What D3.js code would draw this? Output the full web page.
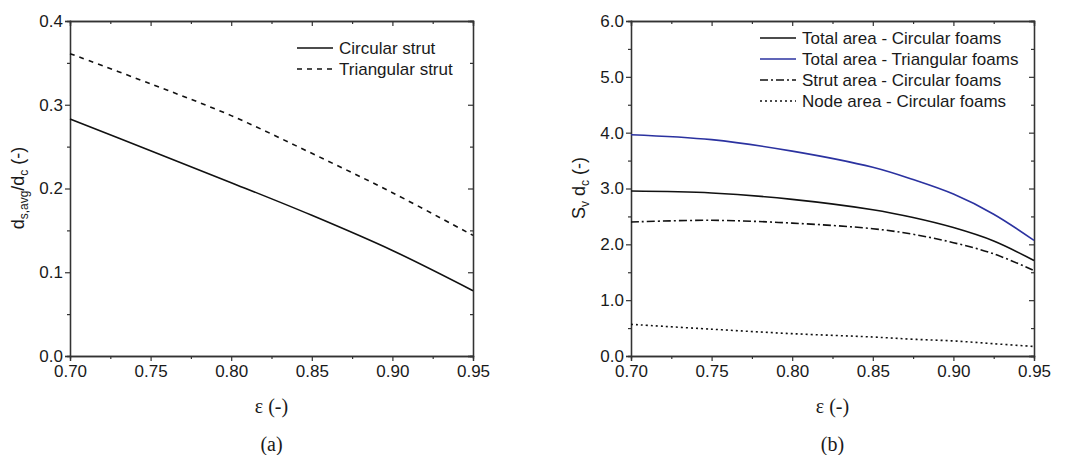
<!DOCTYPE html>
<html>
<head>
<meta charset="utf-8">
<title>Strut diameter and specific surface</title>
<script src="https://d3js.org/d3.v7.min.js"></script>
<style>
  body { margin: 0; background: #fff; }
  text { font-family: "Liberation Sans", Arial, sans-serif; fill: #1a1a1a; }
  .serif { font-family: "Liberation Serif", "Times New Roman", serif; }
</style>
</head>
<body>
<script>
// panel (a)
var epsA = [0.70, 0.75, 0.80, 0.85, 0.90, 0.95];
var circularStrut = [0.283, 0.245, 0.207, 0.168, 0.126, 0.078];
var triangularStrut = [0.361, 0.325, 0.287, 0.242, 0.195, 0.144];

// panel (b)
var epsB = [0.70, 0.75, 0.80, 0.85, 0.875, 0.90, 0.925, 0.95];
var totalCircular = [2.955, 2.92, 2.806, 2.62, 2.48, 2.30, 2.06, 1.71];
var totalTriangular = [3.964, 3.875, 3.67, 3.38, 3.16, 2.90, 2.54, 2.07];
var strutCircular = [2.40, 2.43, 2.38, 2.28, 2.18, 2.03, 1.83, 1.53];
var nodeCircular = [0.567, 0.48, 0.40, 0.34, 0.30, 0.27, 0.22, 0.17];

var xTicks = [0.70, 0.75, 0.80, 0.85, 0.90, 0.95];
var yTicksA = [0.0, 0.1, 0.2, 0.3, 0.4];
var yTicksB = [0.0, 1.0, 2.0, 3.0, 4.0, 5.0, 6.0];

var svg = d3.select("body")
    .append("svg")
    .attr("width", 1067)
    .attr("height", 455);

function drawPanel(opt) {
    var x = d3.scaleLinear().domain([0.70, 0.95]).range([opt.left, opt.right]);
    var y = d3.scaleLinear().domain(opt.yDomain).range([356, 21]);
    var g = svg.append("g");

    var xMinor = d3.range(0.725, 0.95, 0.05);
    var yMinor = d3.range(opt.yDomain[0] + opt.yMinorStep, opt.yDomain[1], opt.yMinorStep * 2);

    // bottom axis
    g.append("g")
        .attr("transform", "translate(0,356)")
        .call(d3.axisBottom(x).tickValues(xTicks).tickFormat(d3.format(".2f")).tickSizeOuter(0).tickSize(5).tickPadding(4))
        .call(function(a) { a.selectAll("text").style("font-size", "17px").style("fill", "#1a1a1a"); });
    g.append("g")
        .attr("transform", "translate(0,356)")
        .call(d3.axisBottom(x).tickValues(xMinor).tickFormat("").tickSizeOuter(0).tickSize(3));

    // top axis (ticks inward)
    g.append("g")
        .attr("transform", "translate(0,21)")
        .call(d3.axisBottom(x).tickValues(xTicks).tickFormat("").tickSizeOuter(0).tickSize(5));
    g.append("g")
        .attr("transform", "translate(0,21)")
        .call(d3.axisBottom(x).tickValues(xMinor).tickFormat("").tickSizeOuter(0).tickSize(3));

    // left axis
    g.append("g")
        .attr("transform", "translate(" + opt.left + ",0)")
        .call(d3.axisLeft(y).tickValues(opt.yTicks).tickFormat(d3.format(".1f")).tickSizeOuter(0).tickSize(5).tickPadding(2))
        .call(function(a) { a.selectAll("text").style("font-size", "17px").style("fill", "#1a1a1a"); });
    g.append("g")
        .attr("transform", "translate(" + opt.left + ",0)")
        .call(d3.axisLeft(y).tickValues(yMinor).tickFormat("").tickSizeOuter(0).tickSize(3));

    // right axis (ticks inward)
    g.append("g")
        .attr("transform", "translate(" + opt.right + ",0)")
        .call(d3.axisLeft(y).tickValues(opt.yTicks).tickFormat("").tickSizeOuter(0).tickSize(5));
    g.append("g")
        .attr("transform", "translate(" + opt.right + ",0)")
        .call(d3.axisLeft(y).tickValues(yMinor).tickFormat("").tickSizeOuter(0).tickSize(3));

    g.selectAll(".domain").attr("stroke", "#333").attr("stroke-width", 1.3);
    g.selectAll(".tick line").attr("stroke", "#333").attr("stroke-width", 1.2);

    var line = d3.line()
        .x(function(d) { return x(d[0]); })
        .y(function(d) { return y(d[1]); })
        .curve(d3.curveCatmullRom.alpha(0.5));

    opt.series.forEach(function(s, i) {
        var pts = opt.eps.map(function(e, j) { return [e, s.values[j]]; });
        g.append("path")
            .attr("d", line(pts))
            .attr("fill", "none")
            .attr("stroke", s.color)
            .attr("stroke-width", 1.6)
            .attr("stroke-dasharray", s.dash);

        var ly = opt.legendY + i * 21;
        g.append("line")
            .attr("x1", opt.legendX).attr("x2", opt.legendX + 36)
            .attr("y1", ly).attr("y2", ly)
            .attr("stroke", s.color)
            .attr("stroke-width", 1.6)
            .attr("stroke-dasharray", s.dash);
        g.append("text")
            .attr("x", opt.legendX + 42)
            .attr("y", ly + 6)
            .style("font-size", "17px")
            .text(s.name);
    });

    var mid = (opt.left + opt.right) / 2;
    g.append("text")
        .attr("class", "serif")
        .attr("x", mid).attr("y", 413)
        .attr("text-anchor", "middle")
        .style("font-size", "20px")
        .text("\u03b5 (-)");
    g.append("text")
        .attr("class", "serif")
        .attr("x", mid).attr("y", 451)
        .attr("text-anchor", "middle")
        .style("font-size", "20px")
        .text(opt.tag);

    var yl = g.append("text")
        .attr("transform", "translate(" + opt.yLabelX + ",188) rotate(-90)")
        .attr("text-anchor", "middle")
        .style("font-size", "18px");
    opt.yLabel.forEach(function(p) {
        var t = yl.append("tspan").text(p[0]);
        if (p[1]) t.style("font-size", "12px").attr("dy", 4);
        else t.attr("dy", p[2] || 0);
    });
}

drawPanel({
    left: 70, right: 473,
    yDomain: [0, 0.4], yTicks: yTicksA, yMinorStep: 0.05,
    eps: epsA,
    series: [
        {name: "Circular strut", values: circularStrut, color: "#111", dash: null},
        {name: "Triangular strut", values: triangularStrut, color: "#111", dash: "5,5"}
    ],
    legendX: 297, legendY: 48,
    tag: "(a)",
    yLabelX: 24,
    yLabel: [["d", false], ["s,avg", true], ["/d", false, -4], ["c", true], [" (-)", false, -4]]
});

drawPanel({
    left: 631, right: 1034,
    yDomain: [0, 6], yTicks: yTicksB, yMinorStep: 0.5,
    eps: epsB,
    series: [
        {name: "Total area - Circular foams", values: totalCircular, color: "#111", dash: null},
        {name: "Total area - Triangular foams", values: totalTriangular, color: "#2b32a0", dash: null},
        {name: "Strut area - Circular foams", values: strutCircular, color: "#111", dash: "8,3,2,3"},
        {name: "Node area - Circular foams", values: nodeCircular, color: "#111", dash: "2,3"}
    ],
    legendX: 760, legendY: 38,
    tag: "(b)",
    yLabelX: 585,
    yLabel: [["S", false], ["v", true], [" d", false, -4], ["c", true], [" (-)", false, -4]]
});
</script>
</body>
</html>
